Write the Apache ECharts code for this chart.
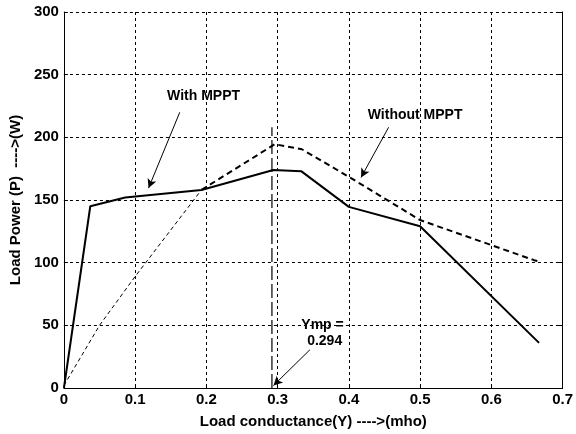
<!DOCTYPE html>
<html>
<head>
<meta charset="utf-8">
<script src="https://cdn.jsdelivr.net/npm/echarts@6/dist/echarts.min.js"></script>
<style>html,body{margin:0;padding:0;background:#fff}#c{width:576px;height:434px}</style>
</head>
<body>
<div id="c"></div>
<script>
// Data
var withMPPT = [[0,0],[0.037,145],[0.086,152],[0.193,158],[0.294,174],[0.333,173],[0.4,144.5],[0.5,129],[0.667,36]];
var withoutMPPTLow = [[0,2],[0.05,50],[0.1,89],[0.193,158]];
var withoutMPPTHigh = [[0.193,158],[0.296,194.5],[0.334,190.5],[0.4,168.5],[0.5,134],[0.66,102],[0.667,101]];
var ympLine = [[0.292,0],[0.292,208]];
var xTicks = [0,0.1,0.2,0.3,0.4,0.5,0.6,0.7];
var yTicks = [0,50,100,150,200,250,300];

// Annotations (data coordinates)
var notes = [
  {text:'With MPPT', at:[0.196,232.5]},
  {text:'Without MPPT', at:[0.493,217.5]},
  {text:'Ymp =', at:[0.363,50]},
  {text:'0.294', at:[0.366,37]}
];
var arrows = [
  [[0.1626,220],[0.1188,159.5]],
  [[0.4558,208],[0.4171,168]],
  [[0.3453,30.5],[0.2942,2]]
];

var FONT = 'Liberation Sans';
var chart = echarts.init(document.getElementById('c'), null, {renderer:'canvas'});
var lab = {color:'#000', fontFamily:FONT, fontWeight:'bold', fontSize:15};
var gridLine = {show:true, lineStyle:{color:'#000', width:1, type:[3,3]}};

chart.setOption({
  animation:false,
  backgroundColor:'#fff',
  grid:{left:63, right:6, top:12, bottom:43, containLabel:false},
  xAxis:[{
    type:'value', min:xTicks[0], max:xTicks[xTicks.length-1], interval:0.1,
    axisLine:{show:true, onZero:false, lineStyle:{color:'#000', width:1}},
    axisTick:{show:true, inside:true, length:4, lineStyle:{color:'#000'}},
    axisLabel:Object.assign({margin:4, showMaxLabel:true}, lab),
    splitLine:gridLine,
    name:'Load conductance(Y) ---->(mho)', nameLocation:'middle', nameGap:26,
    nameTextStyle:lab
  }],
  yAxis:[{
    type:'value', min:yTicks[0], max:yTicks[yTicks.length-1], interval:50,
    axisLine:{show:true, onZero:false, lineStyle:{color:'#000', width:1}},
    axisTick:{show:true, inside:true, length:4, lineStyle:{color:'#000'}},
    axisLabel:Object.assign({margin:5}, lab),
    splitLine:gridLine,
    name:'Load Power (P)  ---->(W)', nameLocation:'middle', nameGap:37,
    nameTextStyle:lab
  },{
    type:'value', min:0, max:300, interval:50, position:'right',
    axisLine:{show:true, onZero:false, lineStyle:{color:'#000', width:1}},
    axisTick:{show:true, inside:true, length:4, lineStyle:{color:'#000'}},
    axisLabel:{show:false}, splitLine:{show:false}
  }],
  series:[
    {type:'line', data:withMPPT, symbol:'none', lineStyle:{color:'#000', width:2}, z:5},
    {type:'line', data:withoutMPPTLow, symbol:'none', lineStyle:{color:'#000', width:1, type:[4,3]}, z:5},
    {type:'line', data:withoutMPPTHigh, symbol:'none', lineStyle:{color:'#000', width:2, type:[6,4]}, z:5},
    {type:'line', data:ympLine, symbol:'none', lineStyle:{color:'#000', width:1.2, type:[14,4]}, z:5},
    {type:'line', data:[], symbol:'none',
      markLine:{
        silent:true, symbol:['none','arrow'], symbolSize:[7,9],
        label:{show:false},
        lineStyle:{color:'#000', width:1, type:'solid'},
        data:arrows.map(function(a){return [{coord:a[0]},{coord:a[1]}];})
      },
      markPoint:{
        silent:true, symbol:'circle', symbolSize:0,
        label:Object.assign({show:true, position:'inside', formatter:function(p){return p.name;}}, lab, {fontSize:14}),
        data:notes.map(function(n){return {name:n.text, coord:n.at};})
      }, z:6}
  ]
});
</script>
</body>
</html>
